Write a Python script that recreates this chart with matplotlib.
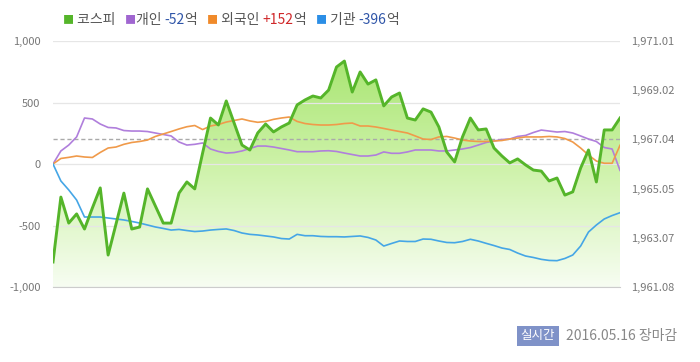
import numpy as np
import matplotlib
matplotlib.use("Agg")
import matplotlib.pyplot as plt
from matplotlib.colors import LinearSegmentedColormap

plt.rcParams['font.family'] = ['Noto Sans CJK KR', 'DejaVu Sans']

# minutes after 9:00, 5-minute steps
minutes = list(range(0, 361, 5))

kospi = [1962.09, 1964.71, 1963.66, 1964.03, 1963.42, 1964.27, 1965.08, 1962.37, 1963.62, 1964.87,
         1963.42, 1963.50, 1965.04, 1964.35, 1963.66, 1963.66, 1964.87, 1965.32, 1965.04, 1966.49,
         1967.90, 1967.62, 1968.59, 1967.70, 1966.81, 1966.61, 1967.30, 1967.66, 1967.34, 1967.54,
         1967.70, 1968.43, 1968.63, 1968.79, 1968.71, 1969.03, 1969.96, 1970.20, 1968.95, 1969.76,
         1969.27, 1969.44, 1968.39, 1968.75, 1968.91, 1967.90, 1967.82, 1968.27, 1968.14, 1967.54,
         1966.53, 1966.13, 1967.14, 1967.90, 1967.42, 1967.46, 1966.69, 1966.37, 1966.09, 1966.25,
         1966.01, 1965.80, 1965.76, 1965.36, 1965.48, 1964.79, 1964.92, 1965.88, 1966.61, 1965.32,
         1967.42, 1967.42, 1967.90]

individual = [0, 106, 154, 220, 374, 366, 325, 297, 293, 272,
              268, 268, 264, 252, 240, 228, 179, 154, 160, 171,
              122, 102, 89, 93, 106, 126, 146, 146, 138, 126,
              114, 100, 100, 100, 106, 108, 102, 89, 77, 65,
              65, 73, 98, 87, 87, 98, 114, 114, 114, 106,
              106, 114, 122, 134, 154, 175, 187, 199, 203, 224,
              232, 256, 276, 268, 260, 264, 252, 228, 203, 183,
              134, 122, -52]

foreign = [0, 45, 54, 65, 57, 53, 94, 130, 138, 160,
           175, 183, 195, 224, 244, 264, 285, 303, 313, 280,
           309, 321, 341, 354, 366, 350, 339, 346, 363, 374,
           382, 346, 329, 321, 317, 317, 321, 329, 333, 309,
           309, 301, 289, 276, 264, 252, 228, 203, 199, 220,
           224, 211, 195, 187, 183, 183, 187, 191, 203, 211,
           220, 220, 220, 224, 220, 207, 179, 130, 73, 24,
           6, 6, 152]

institution = [0, -138, -211, -293, -431, -431, -431, -439, -447, -455,
               -467, -480, -496, -512, -524, -537, -532, -541, -549, -545,
               -537, -532, -528, -541, -561, -572, -577, -585, -593, -606,
               -610, -572, -583, -583, -589, -591, -591, -593, -589, -585,
               -597, -618, -667, -646, -626, -630, -630, -610, -612, -626,
               -638, -640, -630, -612, -626, -645, -663, -683, -695, -724,
               -748, -760, -775, -784, -786, -768, -740, -667, -553, -496,
               -447, -419, -396]

hour_ticks = [60, 120, 180, 240, 300]
hour_labels = ["10:00", "11:00", "12:00", "13:00", "14:00"]
left_ticks = [-1000, -500, 0, 500, 1000]
kospi_lo, kospi_hi = 1961.08, 1971.01
prev_close = 1967.04

fig = plt.figure(figsize=(7, 3.62), dpi=100)
ax2 = fig.add_axes([53/700, 1-287/362, 567/700, 246/362])
ax = ax2.twinx()
ax3 = ax2.twinx()

# kospi fill with gradient (bottom layer)
ax2.set_xlim(0, 360)
ax2.set_ylim(kospi_lo, kospi_hi)
poly = ax2.fill_between(minutes, kospi, kospi_lo, color='none', lw=0)
cmap = LinearSegmentedColormap.from_list('g', ['#f7fdf2', '#cdf2a8', '#a3e36a'])
grad = np.linspace(0, 1, 256).reshape(-1, 1)
img = ax2.imshow(grad, extent=[0, 360, kospi_lo, kospi_hi], origin='lower',
                 aspect='auto', cmap=cmap, zorder=1)
img.set_clip_path(poly.get_paths()[0], transform=ax2.transData)
ax2.axhline(prev_close, color='#aaaaaa', lw=1, ls=(0, (3, 2)), zorder=2)
ax2.set_yticks(np.linspace(kospi_lo, kospi_hi, 6))
ax2.set_yticklabels([f"{v:,.2f}" for v in np.linspace(kospi_lo, kospi_hi, 6)])
ax2.yaxis.tick_right()
ax2.tick_params(axis='y', length=0, pad=8, labelsize=8, labelcolor='#777777')
ax2.tick_params(axis='x', length=0, labelbottom=False)
for s in ax2.spines.values():
    s.set_visible(False)

# investor flows (left axis)
ax.yaxis.tick_left()
ax.set_xlim(0, 360)
ax.set_ylim(-1000, 1000)
ax.patch.set_visible(False)
ax.set_yticks(left_ticks)
ax.set_yticklabels(["-1,000", "-500", "0", "500", "1,000"])
ax.set_xticks(hour_ticks)
ax.set_xticklabels(hour_labels)
ax.grid(True, color='#e6e6e6', lw=0.9)
ax.tick_params(axis='y', length=0, pad=9, labelsize=8, labelcolor='#777777')
ax.tick_params(axis='x', length=4, color='#cccccc', pad=5, labelsize=8, labelcolor='#777777')
for k in ['top', 'left', 'right']:
    ax.spines[k].set_visible(False)
ax.spines['bottom'].set_color('#cccccc')
ax.plot(minutes, individual, color='#b07fdc', lw=1.2, zorder=3)
ax.plot(minutes, foreign, color='#f09a4a', lw=1.2, zorder=3)
ax.plot(minutes, institution, color='#45a6e6', lw=1.2, zorder=3)

# kospi line on top
ax3.set_xlim(0, 360)
ax3.set_ylim(kospi_lo, kospi_hi)
ax3.plot(minutes, kospi, color='#55b52a', lw=2.1, zorder=4)
ax3.axis('off')

# legend
pieces = [("■", '#55b52a'), (" 코스피   ", '#555555'),
          ("■", '#a066d0'), ("개인 ", '#555555'), ("-52", '#2f55a8'), ("억   ", '#555555'),
          ("■", '#f08a2a'), (" 외국인 ", '#555555'), ("+152", '#d0282a'), ("억   ", '#555555'),
          ("■", '#2b8ee6'), (" 기관 ", '#555555'), ("-396", '#2f55a8'), ("억", '#555555')]
fig.canvas.draw()
renderer = fig.canvas.get_renderer()
xpos = 63
for txt, col in pieces:
    size = 8 if txt == "■" else 10
    t = fig.text(xpos/700, 1-20/362, txt, color=col, fontsize=size, va='center', ha='left')
    xpos += t.get_window_extent(renderer).width

# bottom right stamp
fig.text(538/700, 1-336/362, "실시간", color='white', fontsize=9, ha='center', va='center',
         bbox=dict(boxstyle='square,pad=0.3', fc='#7f92c8', ec='none'))
fig.text(566/700, 1-336/362, "2016.05.16 장마감", color='#888888', fontsize=10, ha='left', va='center')

fig.savefig("out.png", dpi=100)
